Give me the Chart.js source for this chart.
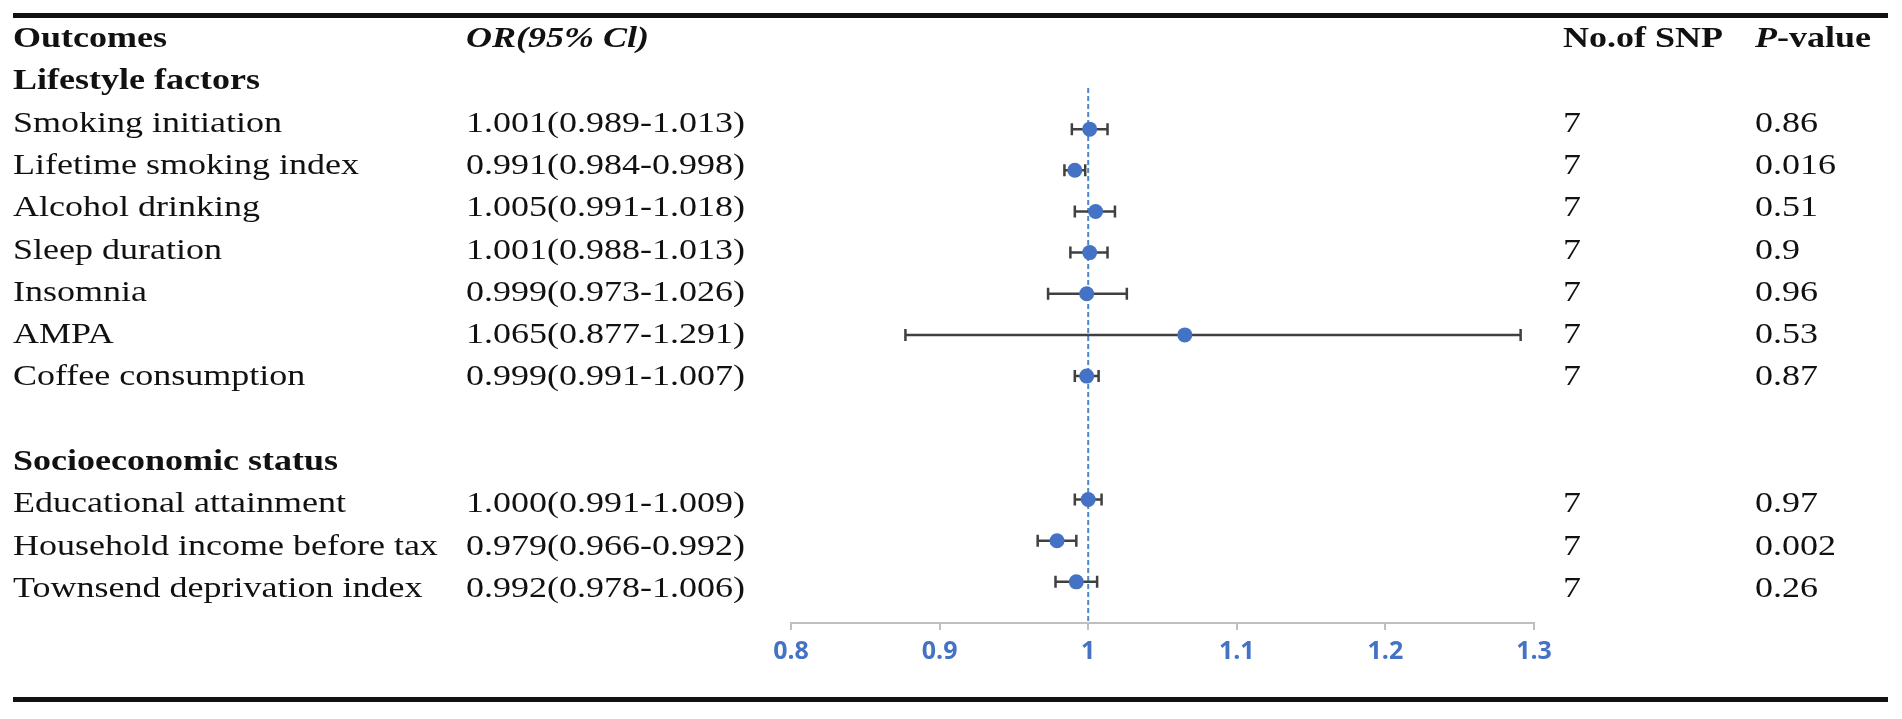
<!DOCTYPE html>
<html>
<head>
<meta charset="utf-8">
<title>Forest plot</title>
<script src="https://cdn.jsdelivr.net/npm/chart.js@4.4.1/dist/chart.umd.min.js"></script>
<style>
  html, body { margin: 0; padding: 0; background: #fff; }
  #wrap { position: relative; width: 1902px; height: 719px; overflow: hidden; }
  #plot { position: absolute; left: 0; top: 0; }
  .rule { position: absolute; left: 13px; width: 1875px; height: 5px; background: #111; }
  .t {
    position: absolute;
    font-family: 'Liberation Serif', 'Times New Roman', serif;
    font-size: 30px;
    line-height: 30px;
    color: #111;
    white-space: nowrap;
    transform: scaleX(1.2);
    transform-origin: 0 0;
  }
  .b { font-weight: bold; }
  .i { font-style: italic; }
</style>
</head>
<body>
<div id="wrap">
  <div class="rule" style="top:13px"></div>
  <canvas id="plot" width="1902" height="719"></canvas>
  <div class="rule" style="top:697px"></div>
</div>
<script>
/* ---------- data ---------- */
const outcomes  = ['Smoking initiation', 'Lifetime smoking index', 'Alcohol drinking', 'Sleep duration',
                   'Insomnia', 'AMPA', 'Coffee consumption',
                   'Educational attainment', 'Household income before tax', 'Townsend deprivation index'];
const rowIndex  = [2, 3, 4, 5, 6, 7, 8, 11, 12, 13];
const groups    = ['Lifestyle factors', 'Socioeconomic status'];
const groupRows = [1, 10];
const orValues  = [1.001, 0.991, 1.005, 1.001, 0.999, 1.065, 0.999, 1.000, 0.979, 0.992];
const ciLower   = [0.989, 0.984, 0.991, 0.988, 0.973, 0.877, 0.991, 0.991, 0.966, 0.978];
const ciUpper   = [1.013, 0.998, 1.018, 1.013, 1.026, 1.291, 1.007, 1.009, 0.992, 1.006];
const snpCounts = [7, 7, 7, 7, 7, 7, 7, 7, 7, 7];
const pValues   = ['0.86', '0.016', '0.51', '0.9', '0.96', '0.53', '0.87', '0.97', '0.002', '0.26'];
const xTicks    = [0.8, 0.9, 1, 1.1, 1.2, 1.3];
const refValue  = 1;

/* ---------- table text ---------- */
const wrap = document.getElementById('wrap');
const COL_X = [13, 466, 1563, 1755];
const TEXT_BASE0 = 47, TEXT_PITCH = 42.3, ASCENT = 25;

function addText(parts, x, row, cls) {
  const el = document.createElement('div');
  el.className = 't ' + (cls || '');
  parts.forEach(p => {
    const s = document.createElement('span');
    if (typeof p === 'string') s.textContent = p;
    else { s.textContent = p.text; s.className = p.cls; }
    el.appendChild(s);
  });
  el.style.left = x + 'px';
  el.style.top = (TEXT_BASE0 + row * TEXT_PITCH - ASCENT) + 'px';
  wrap.appendChild(el);
}

addText(['Outcomes'], COL_X[0], 0, 'b');
addText(['OR(95% Cl)'], COL_X[1], 0, 'b i');
addText(['No.of SNP'], COL_X[2], 0, 'b');
addText([{ text: 'P', cls: 'i' }, '-value'], COL_X[3], 0, 'b');

groups.forEach((g, i) => addText([g], COL_X[0], groupRows[i], 'b'));

outcomes.forEach((name, i) => {
  const r = rowIndex[i];
  addText([name], COL_X[0], r);
  addText([`${orValues[i].toFixed(3)}(${ciLower[i].toFixed(3)}-${ciUpper[i].toFixed(3)})`], COL_X[1], r);
  addText([String(snpCounts[i])], COL_X[2], r);
  addText([pValues[i]], COL_X[3], r);
});

/* ---------- error bars, drawn just under the markers ---------- */
const errorBars = {
  id: 'errorBars',
  beforeDatasetDraw(chart, args) {
    if (args.index !== 0) return;
    const { ctx, scales: { x, y } } = chart;
    ctx.save();
    ctx.strokeStyle = '#404040';
    ctx.lineWidth = 2.5;
    orValues.forEach((v, i) => {
      const yy = y.getPixelForValue(rowIndex[i]);
      const x0 = x.getPixelForValue(ciLower[i]);
      const x1 = x.getPixelForValue(ciUpper[i]);
      ctx.beginPath();
      ctx.moveTo(x0, yy); ctx.lineTo(x1, yy);
      ctx.moveTo(x0, yy - 6); ctx.lineTo(x0, yy + 6);
      ctx.moveTo(x1, yy - 6); ctx.lineTo(x1, yy + 6);
      ctx.stroke();
    });
    ctx.restore();
  }
};

/* ---------- chart ---------- */
new Chart(document.getElementById('plot'), {
  type: 'scatter',
  data: {
    datasets: [
      {
        label: 'OR',
        data: orValues.map((v, i) => ({ x: v, y: rowIndex[i] })),
        backgroundColor: '#4472C4',
        borderWidth: 0,
        pointRadius: 7.5,
        pointHoverRadius: 7.5,
      },
      {
        label: 'ref',
        data: [{ x: refValue, y: 1 }, { x: refValue, y: 14 }],
        showLine: true,
        borderColor: '#4f87c8',
        borderWidth: 2,
        borderDash: [5, 3],
        pointRadius: 0,
      },
    ],
  },
  options: {
    responsive: false,
    animation: false,
    layout: { padding: { left: 791, right: 368, top: 88, bottom: 36 } },
    plugins: { legend: { display: false }, tooltip: { enabled: false } },
    scales: {
      x: {
        type: 'linear',
        min: 0.8,
        max: 1.3,
        afterBuildTicks: s => { s.ticks = xTicks.map(v => ({ value: v })); },
        afterFit: s => { s.height = 60; },
        border: { display: true, color: '#bfbfbf', width: 2 },
        grid: { drawOnChartArea: false, drawTicks: true, tickLength: 7, color: '#bfbfbf', lineWidth: 2 },
        ticks: {
          padding: 7,
          color: '#4472C4',
          font: { family: "'Open Sans', 'Liberation Sans', sans-serif", weight: 'bold', size: 25 },
          maxRotation: 0,
          callback: v => String(v),
        },
      },
      y: { type: 'linear', display: false, reverse: true, min: 1, max: 14 },
    },
  },
  plugins: [errorBars],
});
</script>
</body>
</html>
